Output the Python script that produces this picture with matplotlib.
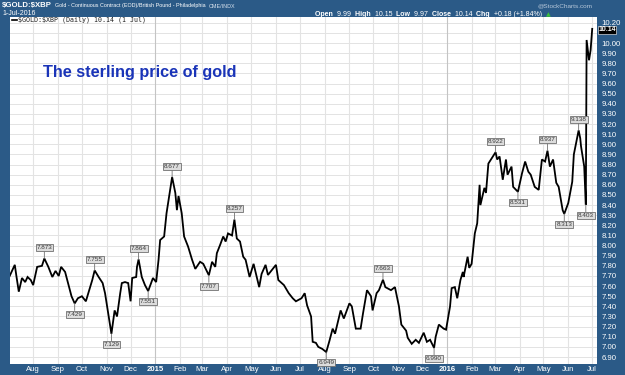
import matplotlib
matplotlib.use("Agg")
import matplotlib.pyplot as plt
import pandas as pd

# ---------------- data ----------------
dates = [
    "2014-07-02", "2014-07-09", "2014-07-11", "2014-07-14", "2014-07-18", "2014-07-22", "2014-07-25", "2014-07-29",
    "2014-08-01", "2014-08-06", "2014-08-12", "2014-08-15", "2014-08-20", "2014-08-25", "2014-08-29",
    "2014-09-02", "2014-09-05", "2014-09-10", "2014-09-15", "2014-09-18", "2014-09-22", "2014-09-26",
    "2014-10-01", "2014-10-06", "2014-10-09", "2014-10-14", "2014-10-17", "2014-10-22", "2014-10-27", "2014-10-30",
    "2014-11-03", "2014-11-07", "2014-11-11", "2014-11-14", "2014-11-18", "2014-11-20", "2014-11-24", "2014-11-28",
    "2014-12-01", "2014-12-03", "2014-12-08", "2014-12-09", "2014-12-11", "2014-12-15", "2014-12-19", "2014-12-23", "2014-12-29",
    "2015-01-02", "2015-01-05", "2015-01-07", "2015-01-12", "2015-01-15", "2015-01-19", "2015-01-22", "2015-01-26", "2015-01-28", "2015-01-30",
    "2015-02-03", "2015-02-06", "2015-02-11", "2015-02-16", "2015-02-20", "2015-02-26",
    "2015-03-02", "2015-03-09", "2015-03-13", "2015-03-17", "2015-03-19", "2015-03-23", "2015-03-27", "2015-03-30",
    "2015-04-02", "2015-04-07", "2015-04-10", "2015-04-13", "2015-04-17", "2015-04-21", "2015-04-24", "2015-04-29",
    "2015-05-04", "2015-05-11", "2015-05-14", "2015-05-19", "2015-05-22", "2015-05-27",
    "2015-06-01", "2015-06-04", "2015-06-11", "2015-06-17", "2015-06-22", "2015-06-26",
    "2015-07-03", "2015-07-07", "2015-07-10", "2015-07-15", "2015-07-17", "2015-07-21", "2015-07-24", "2015-07-29",
    "2015-08-03", "2015-08-07", "2015-08-11", "2015-08-14", "2015-08-21", "2015-08-25",
    "2015-09-01", "2015-09-04", "2015-09-09", "2015-09-15", "2015-09-18", "2015-09-23", "2015-09-28", "2015-09-30",
    "2015-10-05", "2015-10-08", "2015-10-13", "2015-10-16", "2015-10-23", "2015-10-28",
    "2015-11-02", "2015-11-05", "2015-11-11", "2015-11-13", "2015-11-18", "2015-11-23", "2015-11-27",
    "2015-12-03", "2015-12-07", "2015-12-11", "2015-12-16", "2015-12-18", "2015-12-22", "2015-12-28", "2015-12-31",
    "2016-01-05", "2016-01-07", "2016-01-11", "2016-01-14", "2016-01-18", "2016-01-21", "2016-01-22", "2016-01-27", "2016-01-29",
    "2016-02-01", "2016-02-05", "2016-02-08", "2016-02-11", "2016-02-12", "2016-02-17", "2016-02-19", "2016-02-22", "2016-02-26",
    "2016-03-02", "2016-03-04", "2016-03-07", "2016-03-11", "2016-03-15", "2016-03-17", "2016-03-22", "2016-03-24", "2016-03-30",
    "2016-04-04", "2016-04-08", "2016-04-12", "2016-04-15", "2016-04-20", "2016-04-25", "2016-04-29",
    "2016-05-03", "2016-05-06", "2016-05-09", "2016-05-13", "2016-05-17", "2016-05-20", "2016-05-25", "2016-05-27",
    "2016-06-01", "2016-06-06", "2016-06-08", "2016-06-14", "2016-06-16", "2016-06-17", "2016-06-21", "2016-06-23",
    "2016-06-24", "2016-06-27", "2016-06-29", "2016-07-01",
]
prices = [
    7.69, 7.81, 7.70, 7.545, 7.68, 7.64, 7.69, 7.66,
    7.61, 7.79, 7.80, 7.873, 7.79, 7.69, 7.75,
    7.70, 7.79, 7.74, 7.59, 7.50, 7.429, 7.48,
    7.50, 7.45, 7.53, 7.66, 7.755, 7.69, 7.63, 7.53,
    7.33, 7.129, 7.36, 7.30, 7.53, 7.63, 7.64, 7.63,
    7.45, 7.68, 7.69, 7.79, 7.864, 7.69, 7.61, 7.551, 7.68,
    7.64, 7.86, 8.055, 8.09, 8.32, 8.52, 8.677, 8.52, 8.35, 8.49,
    8.32, 8.09, 7.99, 7.86, 7.77, 7.84,
    7.82, 7.707, 7.84, 7.79, 7.925, 8.005, 8.09, 8.04,
    8.12, 8.10, 8.257, 8.07, 8.04, 7.89, 7.86, 7.69,
    7.82, 7.59, 7.72, 7.81, 7.71, 7.76,
    7.81, 7.66, 7.61, 7.53, 7.48, 7.45,
    7.48, 7.53, 7.41, 7.30, 7.05, 7.04, 7.00, 6.98,
    6.949, 7.06, 7.18, 7.13, 7.36, 7.28,
    7.43, 7.40, 7.18, 7.18, 7.33, 7.56, 7.50, 7.36,
    7.53, 7.56, 7.663, 7.59, 7.56, 7.59,
    7.40, 7.22, 7.16, 7.09, 7.03, 7.07, 7.04,
    7.14, 7.05, 7.07, 6.990, 7.10, 7.22, 7.18, 7.17,
    7.40, 7.58, 7.59, 7.48, 7.66, 7.74, 7.69, 7.89, 7.78,
    7.82, 8.12, 8.22, 8.60, 8.40, 8.57, 8.52, 8.81, 8.86,
    8.922, 8.85, 8.88, 8.65, 8.85, 8.70, 8.78, 8.58, 8.531,
    8.71, 8.83, 8.73, 8.70, 8.58, 8.55, 8.85,
    8.83, 8.937, 8.78, 8.85, 8.62, 8.58, 8.35, 8.313,
    8.42, 8.63, 8.90, 9.138, 9.06, 8.98, 8.78, 8.403,
    10.03, 9.83, 9.93, 10.14,
]

# annotated highs / lows
ann_dates = ["2014-08-15", "2014-09-22", "2014-10-17", "2014-11-07", "2014-12-11", "2014-12-23",
             "2015-01-22", "2015-03-09", "2015-04-10", "2015-08-03", "2015-10-13", "2015-12-16",
             "2016-03-02", "2016-03-30", "2016-05-06", "2016-05-27", "2016-06-14", "2016-06-23"]
ann_values = [7.873, 7.429, 7.755, 7.129, 7.864, 7.551,
              8.677, 7.707, 8.257, 6.949, 7.663, 6.990,
              8.922, 8.531, 8.937, 8.313, 9.138, 8.403]
ann_above = [True, False, True, False, True, False,
             True, False, True, False, True, False,
             True, False, True, False, True, False]

y_ticks = [round(6.90 + 0.1 * i, 2) for i in range(34)]
month_ticks = pd.date_range("2014-08-01", "2016-07-01", freq="MS")

# ---------------- style ----------------
BLUE = "#2b5a87"
dts = pd.to_datetime(dates)

W, H = 625, 375
plt.rcParams["font.family"] = ["Liberation Sans", "DejaVu Sans"]
fig = plt.figure(figsize=(W / 100, H / 100), dpi=100, facecolor=BLUE)

L, R, T, B = 10, 597, 17, 364
ax = fig.add_axes([L / W, 1 - B / H, (R - L) / W, (B - T) / H])
ax.set_facecolor("white")

ax.plot(dts, prices, color="black", lw=1.3, solid_joinstyle="miter", zorder=3)

ax.set_ylim(6.831, 10.257)
ax.set_xlim(pd.Timestamp("2014-07-03"), pd.Timestamp("2016-07-07"))

# grid
for v in y_ticks:
    ax.axhline(v, color="#e3e3e3", lw=0.7, zorder=1)
for d in month_ticks:
    c = "#c4c4c4" if d.month == 1 else "#e3e3e3"
    ax.axvline(d, color=c, lw=0.8, zorder=1)

for s in ax.spines.values():
    s.set_visible(False)

# y tick labels on right (10.10 hidden behind last-value box in the original)
ax.yaxis.tick_right()
ax.set_yticks(y_ticks)
ax.set_yticklabels(["" if abs(v - 10.10) < 1e-6 else f"{v:.2f}" for v in y_ticks],
                   fontsize=5.6, color="white")
ax.tick_params(axis="y", length=0, pad=3)

ax.set_xticks(month_ticks)
labels = [(str(d.year) if d.month == 1 else d.strftime("%b")) for d in month_ticks]
ax.set_xticklabels(labels, fontsize=5.6, color="white")
for lab, d in zip(ax.get_xticklabels(), month_ticks):
    if d.month == 1:
        lab.set_fontweight("bold")
ax.tick_params(axis="x", length=0, pad=1.5)

# annotations
for d, v, up in zip(ann_dates, ann_values, ann_above):
    off = 6 if up else -6
    ax.annotate(f"{v:.3f}", xy=(pd.Timestamp(d), v), xytext=(0, off),
                textcoords="offset points", ha="center",
                va="bottom" if up else "top", fontsize=4.6, color="#3a3a3a",
                bbox=dict(boxstyle="square,pad=0.15", fc="#dcdcdc", ec="#707070", lw=0.6),
                arrowprops=dict(arrowstyle="-", color="#707070", lw=0.6, shrinkA=0, shrinkB=0),
                zorder=5)

# last value box
ax.annotate(f"{prices[-1]:.2f}", xy=(1.0, prices[-1]), xycoords=("axes fraction", "data"),
            xytext=(1, -0.6), textcoords="offset points", ha="left", va="center",
            fontsize=5.0, color="white", fontweight="bold",
            bbox=dict(boxstyle="square,pad=0.08", fc="black", ec="white", lw=0.4),
            annotation_clip=False, zorder=6)

# legend line inside plot
ax.plot([0.003, 0.012], [0.991, 0.991], transform=ax.transAxes, color="black", lw=1.2, clip_on=False)
ax.text(0.014, 0.991, r"\$GOLD:\$XBP (Daily) 10.14 (1 Jul)", transform=ax.transAxes,
        fontsize=4.8, color="#222222", va="center", ha="left", family="DejaVu Sans Mono")

# title inside plot
ax.text((43 - L) / (R - L), 1 - (73 - T) / (B - T), "The sterling price of gold",
        transform=ax.transAxes, fontsize=11.7, fontweight="bold", color="#1a34b8",
        ha="left", va="center")

# header texts
fig.canvas.draw()
rend = fig.canvas.get_renderer()


def ft(x, y, s, width=None, **kw):
    t = fig.text(x / W, 1 - y / H, s, va="center", **kw)
    if width is not None:
        bb = t.get_window_extent(renderer=rend)
        t.set_fontsize(t.get_fontsize() * width / bb.width)
    return t


ft(2, 6, r"\$GOLD:\$XBP", width=50, fontsize=6.6, fontweight="bold", color="white")
ft(55, 6, "Gold - Continuous Contract (EOD)/British Pound - Philadelphia", width=150,
   fontsize=4.4, color="white")
ft(209, 6, "CME/INDX", width=26, fontsize=3.8, color="#d8e2ee")
ft(593, 6, "@StockCharts.com", fontsize=4.6, color="#b8c8da", ha="right")
ft(2, 13.5, "1-Jul-2016", width=33, fontsize=4.8, color="white")

parts = [("Open ", True), ("9.99 ", False), ("High ", True), ("10.15 ", False), ("Low ", True),
         ("9.97 ", False), ("Close ", True), ("10.14 ", False), ("Chg ", True), ("+0.18 (+1.84%)", False)]
x0 = 315
for s, bold in parts:
    t = fig.text(x0 / W, 1 - 14.5 / H, s, va="center", fontsize=5.0,
                 fontweight="bold" if bold else "normal", color="white")
    bb = t.get_window_extent(renderer=rend)
    x0 += bb.width + (2.0 if s.endswith(" ") else 0)
fig.text((x0 + 4) / W, 1 - 14.5 / H, "\u25b2", va="center", fontsize=4.5, color="#3bbf3b",
         family="DejaVu Sans")

fig.savefig("out.png", dpi=100, facecolor=BLUE)
